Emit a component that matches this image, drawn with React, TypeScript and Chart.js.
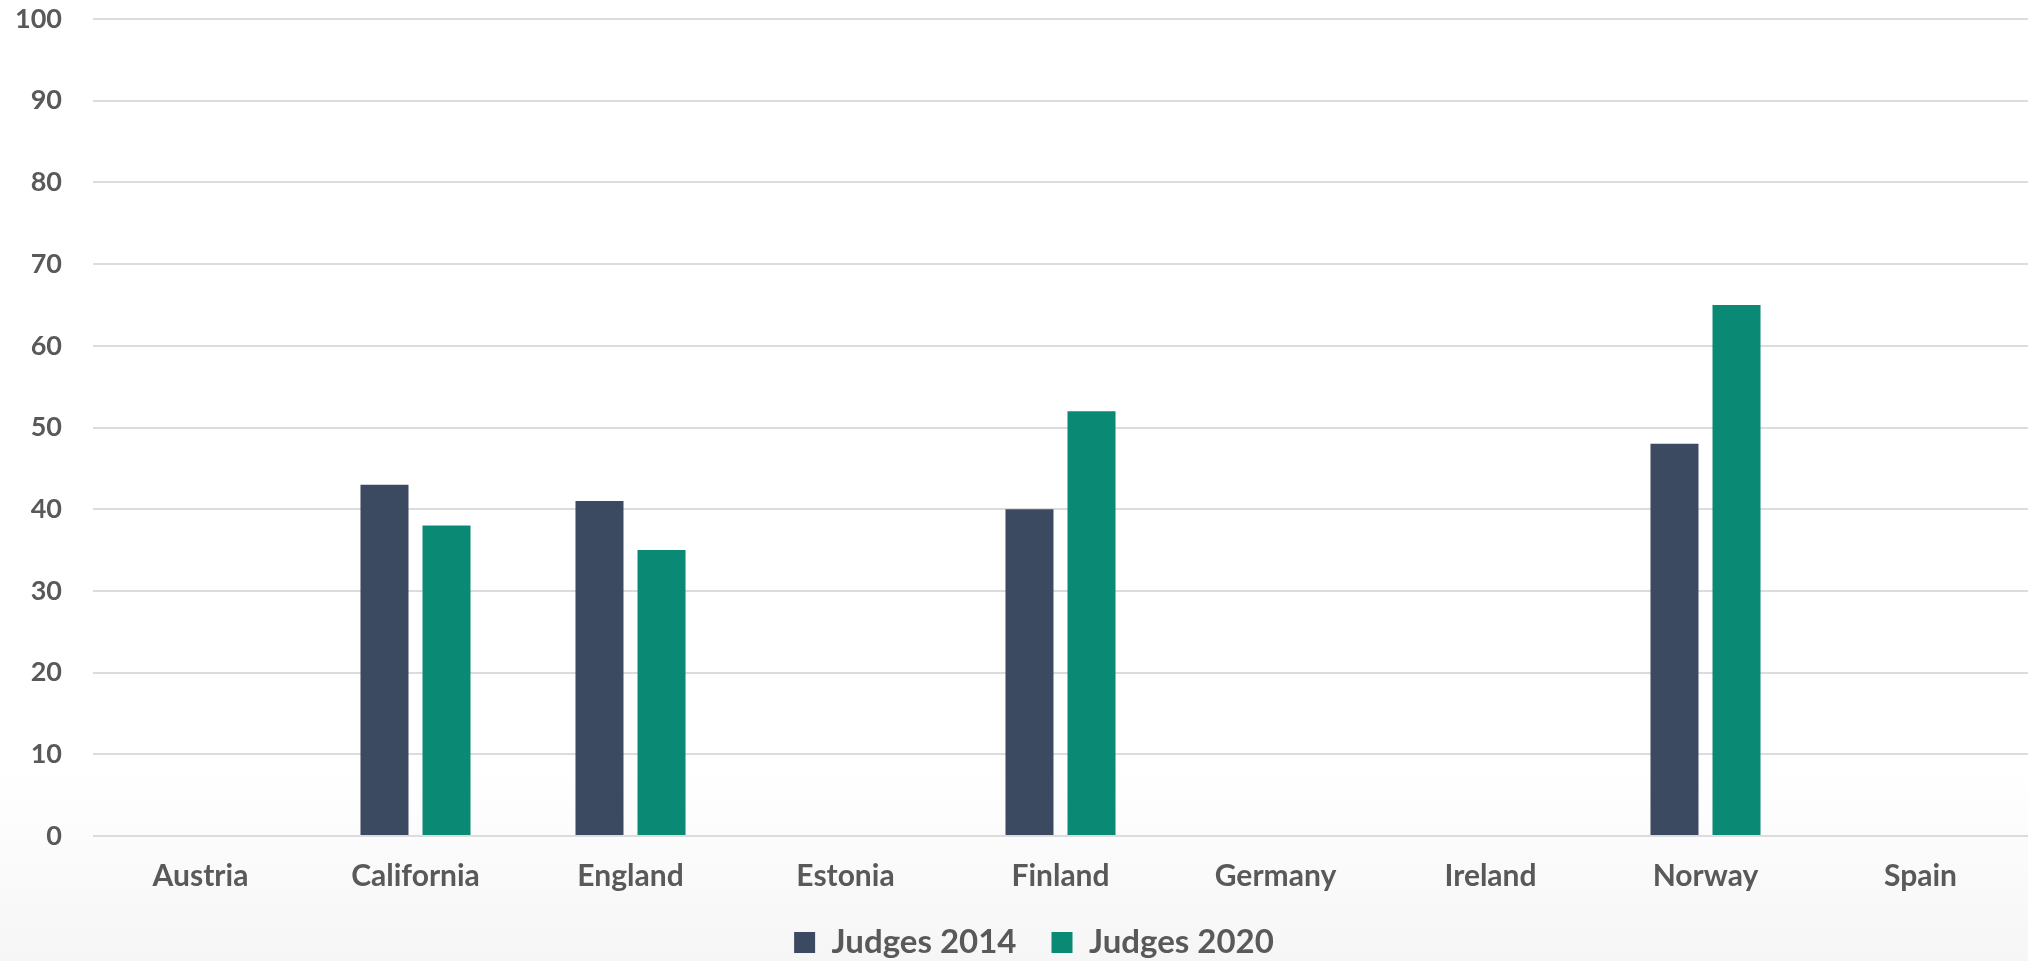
import React, { useEffect, useRef } from "react";
import { Chart, registerables } from "chart.js";

Chart.register(...registerables);

const categories = ["Austria", "California", "England", "Estonia", "Finland", "Germany", "Ireland", "Norway", "Spain"];
const judges2014: (number | null)[] = [null, 43, 41, null, 40, null, null, 48, null];
const judges2020: (number | null)[] = [null, 38, 35, null, 52, null, null, 65, null];
const yTicks = [0, 10, 20, 30, 40, 50, 60, 70, 80, 90, 100];

const FONT = "Lato, 'Open Sans', sans-serif";
const TEXT = "#595959";

const bgPlugin = {
  id: "bgGradient",
  beforeDraw(chart: any) {
    const { ctx, width, height } = chart;
    const g = ctx.createLinearGradient(0, 0, 0, height);
    g.addColorStop(0, "#FFFFFF");
    g.addColorStop(0.8, "#FFFFFF");
    g.addColorStop(1, "#F6F6F6");
    ctx.save();
    ctx.fillStyle = g;
    ctx.fillRect(0, 0, width, height);
    ctx.restore();
  },
};

const legendShift = {
  id: "legendShift",
  afterLayout(chart: any) {
    if (chart.legend) chart.legend.left = 40;
  },
};

export default function App() {
  const ref = useRef<HTMLCanvasElement | null>(null);
  useEffect(() => {
    if (!ref.current) return;
    const chart = new Chart(ref.current, {
      type: "bar",
      data: {
        labels: categories,
        datasets: [
          {
            label: "Judges 2014",
            data: judges2014,
            backgroundColor: "#3C4A61",
            categoryPercentage: 0.577,
            barPercentage: 0.774,
          },
          {
            label: "Judges 2020",
            data: judges2020,
            backgroundColor: "#0A8974",
            categoryPercentage: 0.577,
            barPercentage: 0.774,
          },
        ],
      },
      options: {
        animation: false,
        responsive: true,
        maintainAspectRatio: false,
        layout: { padding: { top: 19, left: 0, right: 0, bottom: -8 } },
        plugins: {
          tooltip: { enabled: false },
          legend: {
            position: "bottom",
            labels: {
              boxWidth: 21,
              boxHeight: 21,
              padding: 35,
              color: TEXT,
              font: { family: FONT, size: 33, weight: "bold" },
            },
          },
        },
        scales: {
          x: {
            grid: { display: false },
            border: { display: false },
            ticks: {
              color: TEXT,
              padding: 14,
              font: { family: FONT, size: 30, weight: "bold" },
              maxRotation: 0,
              autoSkip: false,
            },
            afterFit: (axis: any) => {
              axis.height = 55;
              axis.paddingLeft = 0;
              axis.paddingRight = 0;
            },
          },
          y: {
            min: 0,
            max: 100,
            afterBuildTicks: (axis: any) => {
              axis.ticks = yTicks.map((v) => ({ value: v }));
            },
            afterFit: (axis: any) => {
              axis.width = 93;
              axis.paddingTop = 0;
              axis.paddingBottom = 0;
            },
            grid: { color: "#DCDCDC", lineWidth: 2, drawTicks: false },
            border: { display: false },
            ticks: {
              color: TEXT,
              padding: 31,
              font: { family: FONT, size: 27, weight: "bold" },
            },
          },
        },
      },
      plugins: [bgPlugin, legendShift],
    });
    return () => chart.destroy();
  }, []);
  return (
    <div style={{ position: "fixed", left: 0, top: 0, width: 2028, height: 961 }}>
      <canvas ref={ref} />
    </div>
  );
}
